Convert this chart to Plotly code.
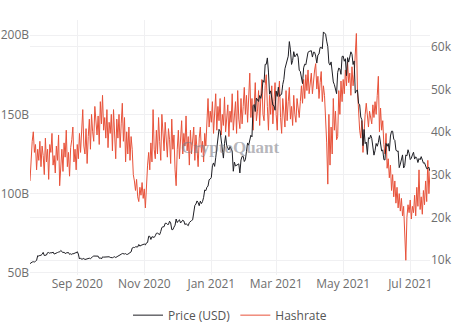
import pandas as pd
import plotly.graph_objects as go

start_date = "2020-07-20"

# BTC price (USD), daily, Jul 20 2020 - Jul 19 2021
price_usd = [
    # Jul 20-31 2020
    9160, 9390, 9540, 9610, 9550, 9710, 9930, 11030, 10940, 11100, 11110, 11350,
    # Aug
    11800, 11070, 11230, 11190, 11740, 11770, 11600, 11750, 11680, 11880,
    11410, 11580, 11780, 11770, 11870, 11910, 12250, 11990, 11750, 11860,
    11520, 11680, 11650, 11770, 11340, 11470, 11320, 11530, 11480, 11710, 11680,
    # Sep
    11970, 11410, 10250, 10510, 10170, 10280, 10370, 10130, 10240, 10360,
    10400, 10440, 10330, 10680, 10790, 10950, 10950, 10930, 11090, 10920,
    10420, 10540, 10250, 10750, 10690, 10730, 10780, 10710, 10840, 10780,
    # Oct
    10620, 10570, 10550, 10670, 10790, 10600, 10670, 10920, 11060, 11300,
    11380, 11540, 11430, 11430, 11510, 11320, 11360, 11480, 11750, 11920,
    12820, 12970, 12930, 13110, 13030, 13070, 13650, 13270, 13450, 13560, 13800,
    # Nov
    13760, 13550, 14030, 14130, 15590, 15580, 14830, 15480, 15330, 15310,
    15700, 16280, 16320, 16070, 15960, 16720, 17650, 17800, 17820, 18620,
    18640, 18370, 18360, 19110, 18730, 17150, 17140, 17720, 18180, 19630,
    # Dec
    18800, 19200, 19450, 18700, 19150, 19360, 19170, 18320, 18550, 18260,
    18060, 18800, 19170, 19270, 19430, 21310, 22800, 23140, 23870, 23480,
    22750, 23820, 23250, 23720, 24710, 26440, 26280, 27080, 27360, 28840, 29000,
    # Jan 2021
    29370, 32130, 32780, 31970, 33990, 36820, 39370, 40670, 40240, 38240,
    35540, 33920, 37320, 39190, 36830, 36070, 35820, 36630, 36070, 35550,
    30830, 32990, 32070, 32290, 32370, 32570, 30430, 33470, 34320, 34320, 33110,
    # Feb
    33540, 35510, 37470, 36930, 38140, 39270, 38900, 46200, 46480, 44840,
    47990, 47410, 47190, 48580, 47910, 49160, 52150, 51680, 55890, 55920,
    57410, 54090, 48890, 49680, 47260, 46340, 46190, 45140,
    # Mar
    49630, 48380, 50540, 48380, 48760, 48880, 51210, 52370, 54880, 55890,
    57330, 57810, 61240, 59300, 55880, 56800, 58870, 57650, 58030, 58410,
    57580, 54530, 54210, 52300, 51370, 55080, 55940, 55790, 57630, 58730, 58920,
    # Apr
    58990, 59100, 57610, 58760, 58720, 57850, 56200, 58110, 58320, 59850,
    59910, 59540, 63500, 63110, 62980, 61350, 60040, 56210, 55720, 56470,
    53910, 51770, 51130, 50110, 49020, 54020, 55030, 54830, 53560, 57750,
    # May
    57830, 56630, 57210, 53240, 57470, 56430, 57420, 58840, 58280, 55860,
    56700, 49150, 49720, 49880, 46760, 46430, 43540, 42910, 36830, 40630,
    37310, 37680, 34770, 38710, 38400, 39290, 38530, 35680, 34610, 35680, 37340,
    # Jun
    36690, 37580, 39190, 36890, 35550, 35860, 33560, 33470, 37350, 36700,
    37340, 35550, 39100, 40220, 40220, 38350, 38090, 35820, 35480, 35600,
    31680, 32510, 33680, 34660, 31590, 32160, 34650, 34430, 35870, 35040,
    # Jul 1-19
    33570, 33890, 34670, 35290, 33690, 34220, 33860, 32880, 33820, 33520,
    34260, 33090, 32730, 32820, 31780, 31420, 31530, 31780, 30820,
]

# Hashrate, in billions, daily
hashrate_b = [
    # Jul 20-31 2020
    108, 122, 133, 139, 126, 131, 115, 128, 121, 133, 117, 130,
    # Aug
    124, 112, 135, 120, 128, 109, 131, 126, 138, 118,
    124, 113, 130, 121, 137, 105, 119, 128, 114, 132,
    123, 140, 117, 126, 111, 129, 134, 142, 120, 128, 115,
    # Sep
    131, 122, 138, 126, 144, 153, 130, 125, 141, 119,
    136, 147, 128, 150, 139, 133, 155, 142, 137, 149,
    131, 158, 144, 162, 140, 148, 135, 153, 129, 145,
    # Oct
    138, 150, 127, 153, 141, 122, 147, 135, 150, 129,
    144, 157, 133, 148, 120, 139, 125, 142, 121, 136,
    128, 112, 108, 102, 109, 98, 95, 104, 99, 107, 97,
    # Nov
    103, 91, 110, 118, 126, 115, 132, 120, 153, 128,
    122, 140, 125, 148, 133, 121, 150, 136, 127, 145,
    131, 123, 141, 134, 119, 147, 128, 137, 115, 105,
    # Dec
    128, 140, 122, 135, 146, 125, 138, 130, 149, 127,
    136, 118, 140, 125, 133, 142, 121, 137, 128, 117,
    135, 142, 126, 133, 120, 138, 130, 145, 160, 142, 152,
    # Jan 2021
    145, 158, 138, 152, 163, 140, 155, 146, 160, 137,
    150, 143, 161, 139, 148, 156, 136, 152, 145, 163,
    140, 150, 158, 138, 165, 147, 141, 160, 144, 155, 167,
    # Feb
    150, 162, 145, 168, 176, 148, 160, 140, 157, 170,
    146, 152, 165, 143, 160, 172, 150, 146, 168, 175,
    155, 140, 162, 150, 168, 144, 158, 170,
    # Mar
    150, 140, 162, 171, 148, 138, 160, 152, 142, 165,
    146, 158, 167, 147, 155, 143, 162, 150, 145, 160,
    152, 148, 158, 168, 157, 172, 160, 175, 165, 178, 163,
    # Apr
    168, 176, 163, 172, 178, 182, 166, 174, 160, 170,
    177, 158, 168, 162, 150, 132, 106, 150, 118, 142,
    125, 160, 140, 152, 134, 136, 165, 150, 171, 158,
    # May
    172, 163, 178, 168, 183, 170, 176, 162, 180, 168,
    175, 190, 201, 165, 150, 140, 135, 146, 126, 142,
    150, 157, 147, 142, 152, 146, 144, 156, 148, 158, 150,
    # Jun
    162, 174, 139, 154, 140, 146, 131, 125, 138, 116,
    122, 110, 118, 102, 112, 98, 108, 94, 104, 91,
    100, 89, 97, 86, 92, 78, 58, 85, 93, 88,
    # Jul 1-19
    96, 84, 92, 88, 99, 86, 104, 92, 115, 90,
    98, 87, 102, 93, 108, 95, 121, 100, 114,
]

x_tick_vals = ["2020-09-01", "2020-11-01", "2021-01-01", "2021-03-01", "2021-05-01", "2021-07-01"]
x_tick_text = ["Sep 2020", "Nov 2020", "Jan 2021", "Mar 2021", "May 2021", "Jul 2021"]

dates = pd.date_range(start_date, periods=len(price_usd), freq="D")
hdates = pd.date_range(start_date, periods=len(hashrate_b), freq="D")

fig = go.Figure()
fig.add_trace(go.Scatter(
    x=hdates, y=[v * 1e9 for v in hashrate_b], name="Hashrate", mode="lines",
    line=dict(color="#E8523A", width=1), yaxis="y", legendrank=2,
))
fig.add_trace(go.Scatter(
    x=dates, y=price_usd, name="Price (USD)", mode="lines",
    line=dict(color="#1E1E24", width=1), yaxis="y2", legendrank=1,
))

grid = "#F0F0F2"
tickfont = dict(family="Open Sans, sans-serif", size=12, color="#6E6E6E")

fig.update_layout(
    width=459, height=330,
    margin=dict(l=30, r=29, t=20, b=55),
    paper_bgcolor="white", plot_bgcolor="white",
    showlegend=True,
    legend=dict(orientation="h", x=0.5, xanchor="center",
                yref="container", y=0.045, yanchor="middle",
                font=dict(family="Open Sans, sans-serif", size=12, color="#555"),
                bgcolor="rgba(0,0,0,0)"),
    xaxis=dict(
        range=["2020-07-20", "2021-07-19"],
        tickvals=x_tick_vals, ticktext=x_tick_text,
        showgrid=True, gridcolor=grid, zeroline=False, showline=False,
        tickfont=tickfont, ticks="", automargin=False,
    ),
    yaxis=dict(
        range=[48.7e9, 209.5e9], dtick=50e9, tick0=0,
        showgrid=True, gridcolor=grid, zeroline=False, showline=False,
        tickfont=tickfont, ticks="", automargin=False,
    ),
    yaxis2=dict(
        range=[6500, 66300], dtick=10000, tick0=0,
        overlaying="y", side="right",
        showgrid=True, gridcolor=grid, zeroline=False, showline=False,
        tickfont=tickfont, ticks="", automargin=False,
    ),
    annotations=[dict(
        text="<b>CryptoQuant</b>", xref="paper", yref="paper", x=0.5, y=0.5,
        showarrow=False,
        font=dict(family="Liberation Serif, serif", size=17, color="rgba(120,120,130,0.55)"),
    )],
)

fig.write_html("out.html")
